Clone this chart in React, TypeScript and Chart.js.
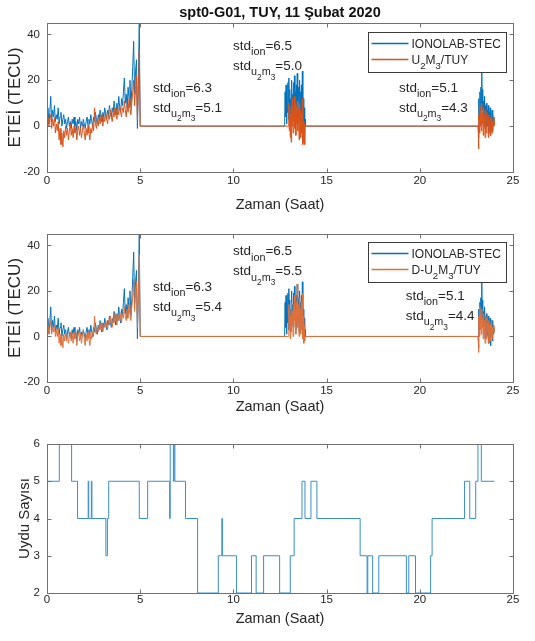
import React, { useEffect, useRef } from "react";
import { Chart, registerables } from "chart.js";

Chart.register(...registerables);

const FONT = "'Liberation Sans', Arial, Helvetica, sans-serif";
const BLUE = "#0072BD";
const ORANGE = "#D95319";
const ORANGE2 = "#E0703A";
const SAT_BLUE = "#3A8EC8";
const AXIS = "#707070";
const TEXT = "#262626";

// ---------------- DATA ----------------
const xTicks = [0, 5, 10, 15, 20, 25];
const tecTicks = [-20, 0, 20, 40];
const satTicks = [2, 3, 4, 5, 6];

// Segment A: 0 .. 4.95 h (every 0.05 h)
const segAStart = 0;
const segAStep = 0.05;
const ionoA = [
  3, 8, 1, 6, 13, 2, 7, 4, 9, 2,
  5, 3, 8, 1, 4, 6, 0, 3, 5, 1,
  3, -1, 2, 4, 0, 2, -1, 3, 1, 4,
  0, 2, -2, 3, 1, 4, -1, 2, 0, 3,
  1, -1, 2, 4, 0, 3, 1, 5, 2, 0,
  4, 2, 6, 3, 1, 5, 3, 7, 4, 2,
  6, 4, 8, 5, 3, 7, 5, 9, 6, 4,
  8, 6, 11, 7, 5, 10, 7, 13, 8, 6,
  12, 9, 15, 21, 10, 14, 8, 17, 12, 20,
  9, 16, 26, 37, 14, 24, 29, -1, 20, 45,
];
const u2m3A = [
  2, 4, 0, 3, 5, -1, 3, 0, 4, -3,
  1, -2, 2, -6, -1, -8, -3, -9, -2, -5,
  0, -4, -1, -6, -2, 1, -4, -1, -5, 0,
  -3, -1, -6, -2, 0, -4, -1, -5, -2, 1,
  -3, -6, -1, -4, 0, -3, -6, -1, -3, 1,
  -2, 8, 1, -1, 3, 0, 4, 1, 5, 2,
  0, 4, 2, 6, 3, 1, 5, 3, 7, 4,
  2, 6, 4, 8, 5, 3, 7, 5, 9, 6,
  4, 8, 6, 11, 7, 4, 9, 6, 12, 8,
  5, 10, 15, 20, 9, 16, 22, 3, 14, 33,
];
const du2m3A = [
  2, 5, 1, 4, 7, 1, 4, 2, 5, 0,
  3, 0, 4, -3, 1, -4, 0, -5, 1, -2,
  2, -2, 1, -3, 0, 2, -2, 1, -3, 2,
  -1, 1, -4, 0, 2, -2, 1, -3, 0, 3,
  -1, -4, 1, -2, 2, -1, -4, 1, -1, 2,
  0, 9, 2, 1, 4, 2, 5, 3, 6, 3,
  2, 5, 4, 7, 5, 3, 7, 5, 9, 6,
  4, 8, 6, 10, 7, 5, 9, 7, 11, 8,
  6, 10, 8, 13, 9, 7, 12, 8, 14, 10,
  7, 13, 17, 25, 11, 19, 24, 4, 16, 36,
];

// Segment B: ~12.75 .. 13.85 h (every 0.025 h)
const segBStart = 12.75;
const segBModelStart = 12.95;
const segBStep = 0.025;
const ionoB = [
  2, 15, 4, 18, 1, 17, 6, 19, 3, 21,
  8, 16, 2, 12, 5, 20, 9, 14, 4, 19,
  7, 22, 10, 15, 3, 18, 8, 23, 6, 13,
  17, 2, 20, 7, 15, 3, 18, 5, 24, 1,
  12, -2, 8, 0, 3,
];
const u2m3B = [
  0, 10, -2, 8, -5, 5, -7, 9, 0, 12,
  -3, 7, 2, 13, -1, 9, -4, 6, 1, 11,
  -2, 8, 3, -6, 10, 0, 7, -5, 4, -3,
  12, -8, 2, -7, 1, -8, 0,
];
const du2m3B = [
  0, 14, 3, 12, -1, 9, 2, 15, 5, 11,
  0, 14, 4, 18, 7, 12, 1, 15, 6, 23,
  4, 11, 14, 0, 17, 5, 12, 1, 15, 3,
  19, -1, 9, -3, 5, -2, 0,
];

// Segment C: 23.15 .. 24.0 h (every 0.025 h)
const segCStart = 23.15;
const segCStep = 0.025;
const ionoC = [
  -5, 12, 3, 15, 6, 17, 9, 24, 7, 16,
  4, 11, 2, 13, -1, 9, 3, 10, 0, 7,
  2, 9, -3, 6, 1, 8, -4, 5, 0, 7,
  -2, 6, 1, 4, 2,
];
const u2m3C = [
  -10, 5, -3, 9, 0, 7, -2, 10, 1, 6,
  -4, 8, 0, 5, -5, 7, 1, -3, 6, 0,
  4, -5, 5, -1, 3, -4, 4, -2, 5, -3,
  2, -1, 4, 0, 2,
];
const du2m3C = [
  -7, 9, 0, 13, 3, 10, 1, 12, 4, 8,
  -1, 10, 2, 7, -3, 9, 3, -1, 8, 2,
  6, -3, 7, 1, 5, -2, 6, 0, 7, -1,
  4, 1, 5, 2, 3,
];

// Hours where the series sit at zero (no observation)
const zeroSpans = [
  [5.0, 12.73],
  [13.87, 23.13],
];

// Satellite count (step changes): start hour and count
const satTimes = [
  0, 0.66, 1.32, 1.64, 2.21, 2.24, 2.38, 2.41, 3.16, 3.24,
  3.31, 4.95, 5.4, 6.58, 6.61, 6.78, 6.82, 6.86, 7.43, 8.08,
  9.19, 9.38, 9.42, 10.17, 10.97, 11.22, 11.62, 12.48, 13.05, 13.26,
  13.68, 13.84, 14.16, 14.48, 16.8, 17.17, 17.21, 17.47, 17.8, 19.28,
  19.41, 19.77, 20.58, 20.66, 22.4, 22.68, 23.0, 23.12, 23.3, 24.0,
];
const satCounts = [
  5, 6, 5, 4, 5, 4, 5, 4, 3, 4,
  5, 4, 5, 4, 6, 5, 6, 5, 4, 2,
  3, 4, 3, 2, 3, 2, 3, 2, 3, 4,
  5, 4, 5, 4, 3, 2, 3, 2, 3, 2,
  3, 2, 3, 4, 5, 4, 5, 6, 5, 5,
];

const stdIon1 = ["6.3", "6.5", "5.1"];
const stdU1 = ["5.1", "5.0", "4.3"];
const stdIon2 = ["6.3", "6.5", "5.1"];
const stdU2 = ["5.4", "5.5", "4.4"];

// ---------------- HELPERS ----------------
type Pt = { x: number; y: number };
type Part = { t: string; l: number };

function seg(start: number, step: number, vals: number[]): Pt[] {
  return vals.map((v, i) => ({ x: +(start + i * step).toFixed(4), y: v }));
}

function buildSeries(a: number[], bStart: number, b: number[], c: number[]): Pt[] {
  return [
    ...seg(segAStart, segAStep, a),
    { x: zeroSpans[0][0], y: 0 },
    { x: Math.max(zeroSpans[0][1], bStart - segBStep), y: 0 },
    ...seg(bStart, segBStep, b),
    { x: zeroSpans[1][0], y: 0 },
    { x: zeroSpans[1][1], y: 0 },
    ...seg(segCStart, segCStep, c),
  ];
}

function drawRich(ctx: CanvasRenderingContext2D, parts: Part[], x: number, y: number, base: number) {
  const sizes = [base, base * 0.8, base * 0.62];
  const offs = [0, base * 0.4, base * 0.72];
  let cx = x;
  ctx.textBaseline = "alphabetic";
  ctx.textAlign = "left";
  for (const p of parts) {
    ctx.font = `${sizes[p.l]}px ${FONT}`;
    ctx.fillText(p.t, cx, y + offs[p.l]);
    cx += ctx.measureText(p.t).width;
  }
}

const ionParts = (v: string): Part[] => [
  { t: "std", l: 0 },
  { t: "ion", l: 1 },
  { t: "=" + v, l: 0 },
];
const umParts = (v: string): Part[] => [
  { t: "std", l: 0 },
  { t: "u", l: 1 },
  { t: "2", l: 2 },
  { t: "m", l: 1 },
  { t: "3", l: 2 },
  { t: "=" + v, l: 0 },
];

const decorPlugin = {
  id: "decor",
  afterDraw(chart: any, _args: any, opts: any) {
    const { ctx, chartArea: a, scales } = chart;
    ctx.save();
    // axes box
    ctx.strokeStyle = AXIS;
    ctx.lineWidth = 1;
    const L = Math.round(a.left) + 0.5;
    const T = Math.round(a.top) + 0.5;
    const R = Math.round(a.right) + 0.5;
    const B = Math.round(a.bottom) + 0.5;
    ctx.strokeRect(L, T, R - L, B - T);
    const tl = 4;
    ctx.beginPath();
    for (const t of scales.x.ticks) {
      const px = Math.round(scales.x.getPixelForValue(t.value)) + 0.5;
      ctx.moveTo(px, B);
      ctx.lineTo(px, B - tl);
      ctx.moveTo(px, T);
      ctx.lineTo(px, T + tl);
    }
    for (const t of scales.y.ticks) {
      const py = Math.round(scales.y.getPixelForValue(t.value)) + 0.5;
      ctx.moveTo(L, py);
      ctx.lineTo(L + tl, py);
      ctx.moveTo(R, py);
      ctx.lineTo(R - tl, py);
    }
    ctx.stroke();

    ctx.fillStyle = TEXT;
    if (opts.title) {
      ctx.font = `bold 14.5px ${FONT}`;
      ctx.textAlign = "center";
      ctx.textBaseline = "middle";
      ctx.fillStyle = "#111";
      ctx.fillText(opts.title, (a.left + a.right) / 2, opts.titleY);
      ctx.fillStyle = TEXT;
    }
    for (const n of opts.notes || []) {
      const x = scales.x.getPixelForValue(n.x);
      const y = scales.y.getPixelForValue(n.y);
      drawRich(ctx, n.l1, x, y, 13.5);
      drawRich(ctx, n.l2, x, y + 20, 13.5);
    }
    if (opts.legend) {
      const w = 138;
      const h = 40;
      const x0 = Math.round(a.right - 7 - w) + 0.5;
      const y0 = Math.round(a.top + opts.legendTop) + 0.5;
      ctx.fillStyle = "#fff";
      ctx.fillRect(x0, y0, w, h);
      ctx.strokeStyle = "#3a3a3a";
      ctx.lineWidth = 1;
      ctx.strokeRect(x0, y0, w, h);
      opts.legend.forEach((it: any, i: number) => {
        const cy = y0 + 11 + i * 16;
        ctx.strokeStyle = it.color;
        ctx.lineWidth = 1.6;
        ctx.beginPath();
        ctx.moveTo(x0 + 3, cy);
        ctx.lineTo(x0 + 40, cy);
        ctx.stroke();
        ctx.fillStyle = TEXT;
        drawRich(ctx, it.parts, x0 + 43, cy + 4.5, 12);
      });
    }
    ctx.restore();
  },
};

function makeConfig(p: any): any {
  return {
    type: "line",
    data: { datasets: p.datasets },
    plugins: [decorPlugin],
    options: {
      responsive: false,
      animation: false,
      events: [],
      layout: { padding: { left: 0, right: 22, top: p.top, bottom: 0 } },
      elements: { point: { radius: 0 }, line: { borderWidth: 1, tension: 0 } },
      plugins: {
        legend: { display: false },
        tooltip: { enabled: false },
        title: { display: false },
        decor: p.decor,
      },
      scales: {
        x: {
          type: "linear",
          min: 0,
          max: 25,
          afterBuildTicks: (s: any) => {
            s.ticks = xTicks.map((v) => ({ value: v }));
          },
          afterFit: (s: any) => {
            s.height = p.xh;
          },
          ticks: { color: TEXT, font: { size: 11.5, family: FONT }, padding: p.xTickPad, maxRotation: 0 },
          grid: { display: false, drawTicks: false },
          border: { display: false },
          title: {
            display: true,
            text: "Zaman (Saat)",
            color: TEXT,
            font: { size: 14.5, family: FONT },
            padding: { top: 0, bottom: p.xTitlePad },
          },
        },
        y: {
          type: "linear",
          min: p.ymin,
          max: p.ymax,
          afterBuildTicks: (s: any) => {
            s.ticks = p.yTicks.map((v: number) => ({ value: v }));
          },
          afterFit: (s: any) => {
            s.width = 47;
          },
          ticks: { color: TEXT, font: { size: 11.5, family: FONT }, padding: 7 },
          grid: { display: false, drawTicks: false },
          border: { display: false },
          title: {
            display: true,
            text: p.ylabel,
            color: TEXT,
            font: { size: p.ylabelSize, family: FONT },
            padding: { top: p.yTitlePad, bottom: 0 },
          },
        },
      },
    },
  };
}

function ChartBox({ top, height, config }: { top: number; height: number; config: () => any }) {
  const ref = useRef<HTMLCanvasElement | null>(null);
  useEffect(() => {
    if (!ref.current) return;
    const chart = new Chart(ref.current, config());
    return () => chart.destroy();
  }, []);
  return (
    <canvas
      ref={ref}
      width={535}
      height={height}
      style={{ position: "absolute", left: 0, top, width: 535, height, display: "block" }}
    />
  );
}

const cfg1 = () =>
  makeConfig({
    top: 23,
    xh: 43,
    xTickPad: 1.5,
    xTitlePad: 1.6,
    ymin: -20,
    ymax: 45,
    yTicks: tecTicks,
    ylabel: "ETEİ (TECU)",
    ylabelSize: 17,
    yTitlePad: 5,
    datasets: [
      { data: buildSeries(u2m3A, segBModelStart, u2m3B, u2m3C), borderColor: ORANGE, order: 0 },
      { data: buildSeries(ionoA, segBStart, ionoB, ionoC), borderColor: BLUE, order: 1 },
    ],
    decor: {
      title: "spt0-G01, TUY, 11 Şubat 2020",
      titleY: 13,
      legendTop: 9,
      legend: [
        { color: BLUE, parts: [{ t: "IONOLAB-STEC", l: 0 }] },
        {
          color: ORANGE,
          parts: [
            { t: "U", l: 0 },
            { t: "2", l: 1 },
            { t: "M", l: 0 },
            { t: "3", l: 1 },
            { t: "/TUY", l: 0 },
          ],
        },
      ],
      notes: [
        { x: 5.69, y: 15.1, l1: ionParts(stdIon1[0]), l2: umParts(stdU1[0]) },
        { x: 9.98, y: 33.3, l1: ionParts(stdIon1[1]), l2: umParts(stdU1[1]) },
        { x: 18.88, y: 15.1, l1: ionParts(stdIon1[2]), l2: umParts(stdU1[2]) },
      ],
    },
  });

const cfg2 = () =>
  makeConfig({
    top: 19,
    xh: 43,
    xTickPad: 1.5,
    xTitlePad: 9.6,
    ymin: -20,
    ymax: 45,
    yTicks: tecTicks,
    ylabel: "ETEİ (TECU)",
    ylabelSize: 17,
    yTitlePad: 5,
    datasets: [
      { data: buildSeries(du2m3A, segBModelStart, du2m3B, du2m3C), borderColor: ORANGE2, order: 0 },
      { data: buildSeries(ionoA, segBStart, ionoB, ionoC), borderColor: BLUE, order: 1 },
    ],
    decor: {
      legendTop: 8,
      legend: [
        { color: BLUE, parts: [{ t: "IONOLAB-STEC", l: 0 }] },
        {
          color: ORANGE2,
          parts: [
            { t: "D-U", l: 0 },
            { t: "2", l: 1 },
            { t: "M", l: 0 },
            { t: "3", l: 1 },
            { t: "/TUY", l: 0 },
          ],
        },
      ],
      notes: [
        { x: 5.69, y: 20.0, l1: ionParts(stdIon2[0]), l2: umParts(stdU2[0]) },
        { x: 9.98, y: 35.6, l1: ionParts(stdIon2[1]), l2: umParts(stdU2[1]) },
        { x: 19.24, y: 16.0, l1: ionParts(stdIon2[2]), l2: umParts(stdU2[2]) },
      ],
    },
  });

const cfg3 = () =>
  makeConfig({
    top: 19,
    xh: 48,
    xTickPad: 0,
    xTitlePad: 13.6,
    ymin: 2,
    ymax: 6,
    yTicks: satTicks,
    ylabel: "Uydu Sayısı",
    ylabelSize: 15,
    yTitlePad: 16,
    datasets: [
      {
        data: satTimes.map((t, i) => ({ x: t, y: satCounts[i] })),
        borderColor: SAT_BLUE,
        stepped: true,
        order: 0,
      },
    ],
    decor: {},
  });

export default function App() {
  return (
    <div style={{ position: "absolute", left: 0, top: 0, width: 535, height: 641, background: "#fff" }}>
      <ChartBox top={0} height={215} config={cfg1} />
      <ChartBox top={215} height={210} config={cfg2} />
      <ChartBox top={425} height={216} config={cfg3} />
    </div>
  );
}
